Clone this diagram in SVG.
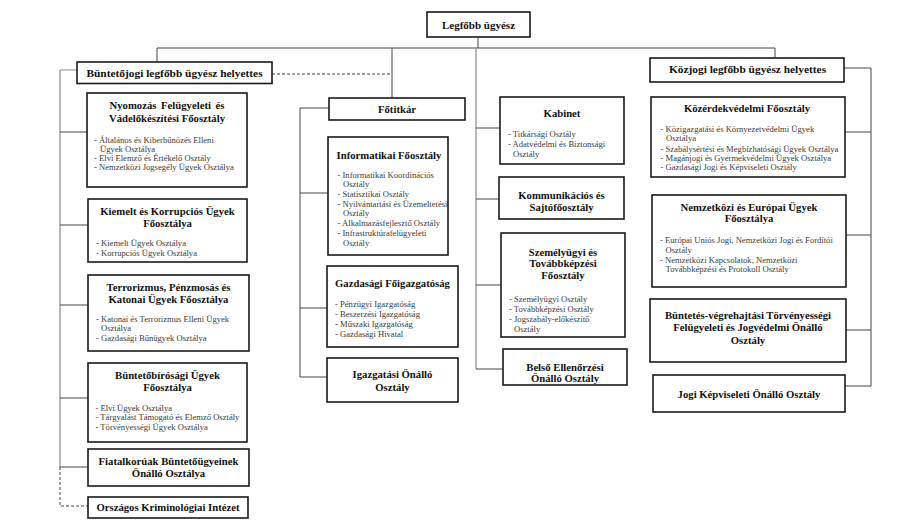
<svg xmlns="http://www.w3.org/2000/svg" width="903" height="522" viewBox="0 0 903 522">
<style>
.box{fill:#fff;stroke:#1a1a1a;stroke-width:1.6}
.t{font-family:"Liberation Serif","Times New Roman",serif;font-weight:bold;font-size:10.7px;fill:#111;text-anchor:middle}
.tb{font-family:"Liberation Serif","Times New Roman",serif;font-weight:bold;font-size:11.4px;fill:#111;text-anchor:middle}
.i{font-family:"Liberation Serif","Times New Roman",serif;font-size:8.6px;fill:#3a3a3a}
.c{fill:none;stroke:#444;stroke-width:1}
.g{fill:none;stroke:#8a8a8a;stroke-width:1.2}
.d{fill:none;stroke:#444;stroke-width:1;stroke-dasharray:3,2}
</style>
<rect width="903" height="522" fill="#fff"/>
<g id="connectors">
<path class="c" d="M478 37V48M157 48H775M157 48V62M392 48V98M775 48V58"/>
<path class="d" d="M272 74H392"/>
<path class="g" d="M476 48V369"/>
<path class="c" d="M476 128H500M476 199H499M476 285H501M476 369H503"/>
<path class="g" d="M60 70H77M60 70V467"/>
<path class="c" d="M60 132H87M60 225H88M60 305H88M60 398H88M60 467H88"/>
<path class="d" d="M60 467V506H88"/>
<path class="c" d="M300 108H329M300 108V377M300 193H328M300 308H327M300 377H327"/>
<path class="c" d="M844 68H871V386M845 132H871M846 235H871M846 330H871M845 386H871"/>
</g>
<g id="n-legfobb"><rect class="box" x="427" y="12" width="103" height="25"/><text class="t" style="font-size:11px" x="478.5" y="29">Legfőbb ügyész</text></g>
<g id="n-buntetojogi"><rect class="box" x="77" y="62" width="195" height="21.5"/><text class="tb" x="174.5" y="77">Büntetőjogi legfőbb ügyész helyettes</text></g>
<g id="n-nyomozas"><rect class="box" x="87" y="93" width="160" height="94"/>
<text class="t" x="167" y="109" style="word-spacing:2px">Nyomozás Felügyeleti és</text><text class="t" x="167" y="122">Vádelőkészítési Főosztály</text>
<g style="font-size:8.9px"><text class="i" x="94" y="143">- Általános és Kiberbűnözés Elleni</text><text class="i" x="100" y="152">Ügyek Osztálya</text><text class="i" x="94" y="161">- Elvi Elemző és Értékelő Osztály</text><text class="i" x="94" y="170">- Nemzetközi Jogsegély Ügyek Osztálya</text></g></g>
<g id="n-kiemelt"><rect class="box" x="88" y="199" width="159" height="63"/>
<text class="t" x="167.5" y="214.5">Kiemelt és Korrupciós Ügyek</text><text class="t" x="167.5" y="227">Főosztálya</text>
<text class="i" x="96" y="245.5">- Kiemelt Ügyek Osztálya</text><text class="i" x="96" y="255.5">- Korrupciós Ügyek Osztálya</text></g>
<g id="n-terror"><rect class="box" x="88" y="275" width="161" height="76"/>
<text class="t" x="168.5" y="290.5">Terrorizmus, Pénzmosás és</text><text class="t" x="168.5" y="302.5">Katonai Ügyek Főosztálya</text>
<text class="i" x="96" y="321.5">- Katonai és Terrorizmus Elleni Ügyek</text><text class="i" x="101" y="330.5">Osztálya</text><text class="i" x="96" y="340.5">- Gazdasági Bűnügyek Osztálya</text></g>
<g id="n-bunbir"><rect class="box" x="88" y="363" width="159" height="79"/>
<text class="t" x="167.5" y="379">Büntetőbírósági Ügyek</text><text class="t" x="167.5" y="390.5">Főosztálya</text>
<text class="i" x="95.5" y="410.5">- Elvi Ügyek Osztálya</text><text class="i" x="95.5" y="420">- Tárgyalást Támogató és Elemző Osztály</text><text class="i" x="95.5" y="430">- Törvényességi Ügyek Osztálya</text></g>
<g id="n-fiatal"><rect class="box" x="88" y="449" width="161" height="37"/>
<text class="t" x="168.5" y="464.5">Fiatalkorúak Büntetőügyeinek</text><text class="t" x="168.5" y="476.5">Önálló Osztálya</text></g>
<g id="n-okri"><rect class="box" x="88" y="497" width="160" height="21"/>
<text class="t" x="168" y="511">Országos Kriminológiai Intézet</text></g>
<g id="n-fotitkar"><rect class="box" x="329" y="98" width="136" height="22"/><text class="t" x="397" y="113">Főtitkár</text></g>
<g id="n-informatikai"><rect class="box" x="328" y="137" width="120" height="118"/>
<text class="t" x="389" y="159">Informatikai Főosztály</text>
<text class="i" x="337.5" y="177.5">- Informatikai Koordinációs</text><text class="i" x="343" y="187">Osztály</text><text class="i" x="337.5" y="196.5">- Statisztikai Osztály</text><text class="i" x="337.5" y="206.5">- Nyilvántartási és Üzemeltetési</text><text class="i" x="343" y="216">Osztály</text><text class="i" x="337.5" y="226">- Alkalmazásfejlesztő Osztály</text><text class="i" x="337.5" y="236">- Infrastruktúrafelügyeleti</text><text class="i" x="343" y="246">Osztály</text></g>
<g id="n-gazdasagi"><rect class="box" x="327" y="266" width="131" height="81"/>
<text class="t" x="392.5" y="287">Gazdasági Főigazgatóság</text>
<g style="font-size:8.8px"><text class="i" x="335" y="307">- Pénzügyi Igazgatóság</text><text class="i" x="335" y="317">- Beszerzési Igazgatóság</text><text class="i" x="335" y="326.5">- Műszaki Igazgatóság</text><text class="i" x="335" y="336.5">- Gazdasági Hivatal</text></g></g>
<g id="n-igazgatasi"><rect class="box" x="327" y="358" width="131" height="44"/>
<text class="t" x="392.5" y="378">Igazgatási Önálló</text><text class="t" x="392.5" y="390.5">Osztály</text></g>
<g id="n-kabinet"><rect class="box" x="500" y="97" width="124" height="67"/>
<text class="t" x="562" y="117">Kabinet</text>
<g style="font-size:8.9px"><text class="i" x="508" y="137">- Titkársági Osztály</text><text class="i" x="508" y="146.5">- Adatvédelmi és Biztonsági</text><text class="i" x="513" y="156.5">Osztály</text></g></g>
<g id="n-kommunikacios"><rect class="box" x="499" y="177" width="125" height="42"/>
<text class="t" x="561.5" y="199">Kommunikációs és</text><text class="t" x="561.5" y="210.5">Sajtófőosztály</text></g>
<g id="n-szemelyugyi"><rect class="box" x="501" y="233" width="124" height="104"/>
<text class="t" x="563" y="255.5">Személyügyi és</text><text class="t" x="563" y="267">Továbbképzési</text><text class="t" x="563" y="279">Főosztály</text>
<g style="font-size:8.8px"><text class="i" x="509" y="301.5">- Személyügyi Osztály</text><text class="i" x="509" y="311.5">- Továbbképzési Osztály</text><text class="i" x="509" y="321.5">- Jogszabály-előkészítő</text><text class="i" x="514" y="331.5">Osztály</text></g></g>
<g id="n-belso"><rect class="box" x="503" y="349" width="124" height="36"/>
<text class="t" x="565" y="370.5">Belső Ellenőrzési</text><text class="t" x="565" y="382">Önálló Osztály</text></g>
<g id="n-kozjogi"><rect class="box" x="650" y="58" width="194" height="24"/><text class="tb" x="747.5" y="73">Közjogi legfőbb ügyész helyettes</text></g>
<g id="n-kozerdek"><rect class="box" x="651" y="97" width="194" height="80"/>
<text class="t" x="747" y="111.5">Közérdekvédelmi Főosztály</text>
<g style="font-size:8.4px"><text class="i" x="660.5" y="131.5">- Közigazgatási és Környezetvédelmi Ügyek</text><text class="i" x="666" y="140.5">Osztálya</text><text class="i" x="660.5" y="151.5">- Szabálysértési és Megbízhatósági Ügyek Osztálya</text><text class="i" x="660.5" y="160.5">- Magánjogi és Gyermekvédelmi Ügyek Osztálya</text><text class="i" x="660.5" y="170">- Gazdasági Jogi és Képviseleti Osztály</text></g></g>
<g id="n-nemzetkozi"><rect class="box" x="652" y="195" width="194" height="92"/>
<text class="t" x="749" y="210.5">Nemzetközi és Európai Ügyek</text><text class="t" x="749" y="222">Főosztálya</text>
<g style="font-size:8.1px"><text class="i" x="660" y="243">- Európai Uniós Jogi, Nemzetközi Jogi és Fordítói</text><text class="i" x="665.5" y="252.5">Osztály</text><text class="i" x="660" y="262.5">- Nemzetközi Kapcsolatok, Nemzetközi</text><text class="i" x="665.5" y="272">Továbbképzési és Protokoll Osztály</text></g></g>
<g id="n-bvop"><rect class="box" x="650" y="299" width="196" height="63"/>
<text class="t" x="748" y="319">Büntetés-végrehajtási Törvényességi</text><text class="t" x="748" y="331">Felügyeleti és Jogvédelmi Önálló</text><text class="t" x="748" y="344">Osztály</text></g>
<g id="n-jogi"><rect class="box" x="653" y="375" width="192" height="37"/>
<text class="t" x="749" y="398">Jogi Képviseleti Önálló Osztály</text></g>
</svg>
